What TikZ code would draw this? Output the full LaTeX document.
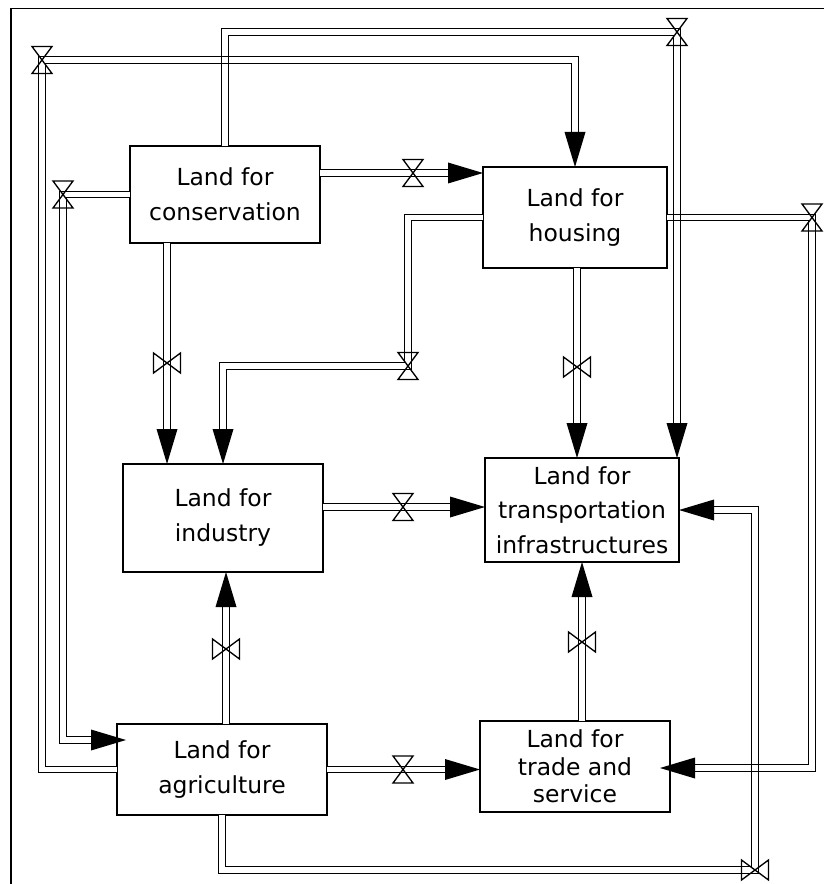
\documentclass[tikz,border=0pt]{standalone}
\usepackage{fontspec}
\newfontfamily\lbl{DejaVu Sans}
\begin{document}
\begin{tikzpicture}[x=0.75pt,y=-0.75pt,
  box/.style={draw, line width=1pt, fill=white, inner sep=0pt, outer sep=0pt, align=center,
    font=\lbl\fontsize{17.6}{26.25}\selectfont},
  pipe/.style={draw, line width=1pt, double=white, double distance=3.9pt},
  pipearr/.style={pipe, shorten >=15pt},
  hv/.pic={\draw[line width=1pt] (-10,-13.5) -- (10,-13.5) -- (-10,13.5) -- (10,13.5) -- cycle;},
  vv/.pic={\draw[line width=1pt] (-13.5,-10) -- (-13.5,10) -- (13.5,-10) -- (13.5,10) -- cycle;},
  arrD/.pic={\fill (0,0) -- (-10.5,-35) -- (10.5,-35) -- cycle;},
  arrU/.pic={\fill (0,0) -- (-10.5,35) -- (10.5,35) -- cycle;},
  arrR/.pic={\fill (0,0) -- (-35,-10.5) -- (-35,10.5) -- cycle;},
  arrL/.pic={\fill (0,0) -- (35,-10.5) -- (35,10.5) -- cycle;},
  xing/.pic={\draw[line width=1pt] (-3.27,-3.27) rectangle (3.27,3.27);}
]
\useasboundingbox (0,0) rectangle (824,884);
% frame
\draw[line width=1.1pt] (11,884) -- (11,8.5) -- (824,8.5);

% stocks
\node[box, minimum width=142.5pt, minimum height=72.75pt] (cons) at (225,194.5) {Land for\\conservation};
\node[box, minimum width=138pt, minimum height=75.75pt] (hous) at (575,217.5) {Land for\\housing};
\node[box, minimum width=150pt, minimum height=81pt] (ind) at (223,518) {Land for\\industry};
\node[box, minimum width=145.5pt, minimum height=78pt, font=\lbl\fontsize{17.6}{25.9}\selectfont] (trans) at (582,510) {Land for\\transportation\\infrastructures};
\node[box, minimum width=157.5pt, minimum height=68.25pt] (agri) at (222,769.5) {Land for\\agriculture};
\node[box, minimum width=142.5pt, minimum height=68.25pt, font=\lbl\fontsize{17.6}{20.8}\selectfont] (trade) at (575,766.5) {Land for\\trade and\\service};

% valve / bend coordinates
\coordinate (f1) at (413,173);
\coordinate (f2) at (167,363);
\coordinate (f3) at (677,32);
\coordinate (f4) at (42,60);
\coordinate (f5) at (63,194.5);
\coordinate (f5e) at (126,740);
\coordinate (f6) at (408,366);
\coordinate (f7) at (577,367);
\coordinate (f8) at (812,217.5);
\coordinate (f8e) at (660,768);
\coordinate (f9) at (755,870);
\coordinate (f10) at (226,649);
\coordinate (f11) at (403,769.5);
\coordinate (f12) at (403,507);
\coordinate (f13) at (582,642);

% flows
\draw[pipearr] (cons.east |- f1) -- (hous.west |- f1);
\draw[pipearr] (cons.south -| f2) -- (ind.north -| f2);
\draw[pipearr] (cons.north) |- (f3) -- (trans.north -| f3);
\draw[pipearr] (agri.west) -| (f4) -- (hous.north |- f4) -- (hous.north);
\draw[pipearr] (cons.west) -- (f5) |- (f5e);
\draw[pipearr] (hous.west) -| (f6) -| (ind.north);
\draw[pipearr] (hous.south -| f7) -- (trans.north -| f7);
\draw[pipearr] (hous.east) -- (f8) |- (f8e);
\draw[pipearr] (agri.south) |- (f9) |- (trans.east);
\draw[pipearr] (agri.north -| f10) -- (ind.south -| f10);
\draw[pipearr] (agri.east) -- (trade.west |- agri.east);
\draw[pipearr] (ind.east |- f12) -- (trans.west |- f12);
\draw[pipearr] (trade.north -| f13) -- (trans.south);

% pipe crossings
\pic at (225,60) {xing};
\pic at (677,217.5) {xing};
\pic at (755,768) {xing};

% valves
\pic at (f1) {hv};
\pic at (f2) {vv};
\pic at (f3) {hv};
\pic at (f4) {hv};
\pic at (f5) {hv};
\pic at (f6) {hv};
\pic at (f7) {vv};
\pic at (f8) {hv};
\pic at (f9) {vv};
\pic at (f10) {vv};
\pic at (f11) {hv};
\pic at (f12) {hv};
\pic at (f13) {vv};

% arrowheads
\pic at (hous.west |- f1) {arrR};
\pic at (ind.north -| f2) {arrD};
\pic at (trans.north -| f3) {arrD};
\pic at (hous.north) {arrD};
\pic at (f5e) {arrR};
\pic at (ind.north) {arrD};
\pic at (trans.north -| f7) {arrD};
\pic at (f8e) {arrL};
\pic at (trans.east) {arrL};
\pic at (ind.south -| f10) {arrU};
\pic at (trade.west |- agri.east) {arrR};
\pic at (trans.west |- f12) {arrR};
\pic at (trans.south) {arrU};
\end{tikzpicture}
\end{document}
